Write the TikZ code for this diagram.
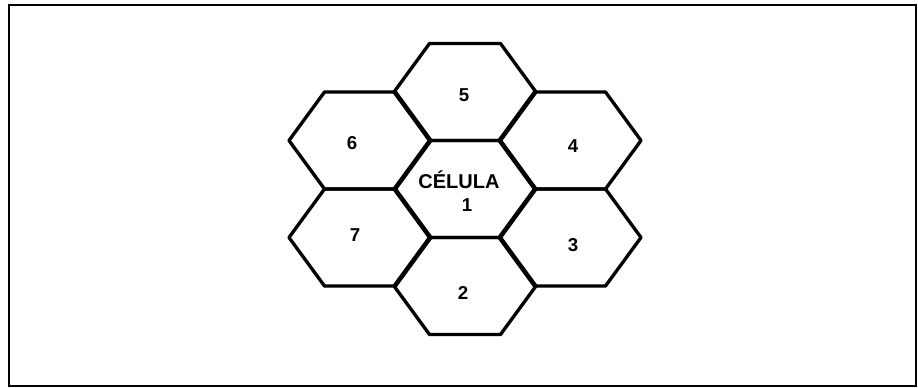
\documentclass[tikz,border=0pt]{standalone}
\usepackage{fontspec}
\setmainfont{Liberation Sans}
\begin{document}
\begin{tikzpicture}[x=0.75pt,y=-0.75pt,
  hexline/.style={line width=2.5pt,line join=round},
  frameline/.style={line width=1.3pt},
  lbl/.style={font=\bfseries\fontsize{14}{15}\selectfont,inner sep=0pt}]
\useasboundingbox (0,0) rectangle (918,388);
\draw[frameline] (9,5) rectangle (916,386);
\foreach \n/\cx/\cy in {1/465/189,5/465/92,2/465/286,6/360/140.5,4/570/140.5,7/360/237.5,3/570/237.5}{
  \coordinate (h\n) at (\cx,\cy);
  \draw[hexline] ([shift={(-35.5,-48.5)}]h\n) -- ([shift={(35.5,-48.5)}]h\n)
    -- ([shift={(71,0)}]h\n) -- ([shift={(35.5,48.5)}]h\n)
    -- ([shift={(-35.5,48.5)}]h\n) -- ([shift={(-71,0)}]h\n) -- cycle;
}
\node[lbl] (t5) at (464,95.5) {5};
\node[lbl] (t6) at (352,143) {6};
\node[lbl] (t4) at (573,146) {4};
\node[lbl,font=\bfseries\fontsize{15}{16}\selectfont] (tc) at (459,180) {CÉLULA};
\node[lbl] (t1) at (467,205) {1};
\node[lbl] (t7) at (355,235) {7};
\node[lbl] (t3) at (573,245) {3};
\node[lbl] (t2) at (463,293) {2};
\end{tikzpicture}
\end{document}
